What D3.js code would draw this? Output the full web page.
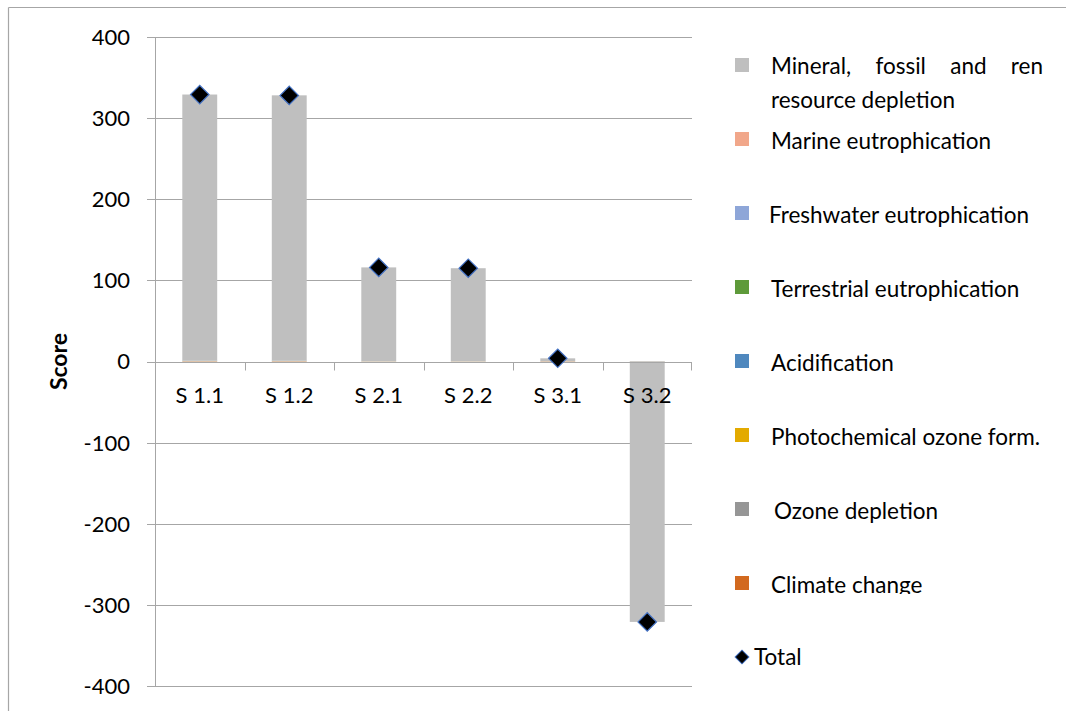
<!DOCTYPE html>
<html>
<head>
<meta charset="utf-8">
<script src="https://cdn.jsdelivr.net/npm/d3@7"></script>
<style>
  html, body { margin: 0; padding: 0; background: #fff; }
  svg { display: block; }
  text { font-family: Lato, "Open Sans", sans-serif; fill: #000; }
</style>
</head>
<body>
<svg id="chart" width="1066" height="711"></svg>
<script>
// ---------------- data ----------------
const categories = ["S 1.1", "S 1.2", "S 2.1", "S 2.2", "S 3.1", "S 3.2"];
// stacked series, bottom to top (Excel order); legend lists them top to bottom
const climateChange   = [0.4, 0.4, 0.2, 0.2, 0.3, 0.1];
const ozoneDepletion  = [0.0, 0.0, 0.0, 0.0, 0.0, 0.0];
const photochemical   = [0.1, 0.1, 0.05, 0.05, 0.05, 0.05];
const acidification   = [0.3, 0.3, 0.1, 0.1, 0.1, 0.1];
const terrestrial     = [0.1, 0.1, 0.05, 0.05, 0.05, 0.05];
const freshwater      = [0.1, 0.1, 0.05, 0.05, 0.05, 0.05];
const marine          = [0.1, 0.1, 0.05, 0.05, 0.05, 0.05];
const mineral         = [328, 327, 115.5, 114.5, 3.3, -321];
const total           = [329, 328, 116, 115, 4, -321];
const yTicks = [-400, -300, -200, -100, 0, 100, 200, 300, 400];

const seriesNames = ["Climate change", "Ozone depletion", "Photochemical ozone form.",
  "Acidification", "Terrestrial eutrophication", "Freshwater eutrophication",
  "Marine eutrophication", "Mineral, fossil and ren resource depletion"];
const seriesValues = [climateChange, ozoneDepletion, photochemical, acidification,
  terrestrial, freshwater, marine, mineral];
const seriesColors = ["#D2691F", "#969696", "#E3AA00", "#4F88BE", "#5E9A3A",
  "#8EA6D8", "#F1A78A", "#BFBFBF"];

// ---------------- layout ----------------
const svg = d3.select("#chart");
const plot = { left: 155, right: 692, top: 37, bottom: 686 };
const tickFont = "22px";
const legendFont = "22.5px";

// outer chart border (top and left visible)
svg.append("line").attr("x1", 8.5).attr("x2", 1066).attr("y1", 7.5).attr("y2", 7.5)
  .attr("stroke", "#A6A6A6").attr("stroke-width", 1.2);
svg.append("line").attr("x1", 8.5).attr("x2", 8.5).attr("y1", 7.5).attr("y2", 711)
  .attr("stroke", "#A6A6A6").attr("stroke-width", 1.2);

const x = d3.scaleBand().domain(categories).range([plot.left, plot.right]).paddingInner(0).paddingOuter(0);
const y = d3.scaleLinear().domain([-400, 400]).range([plot.bottom, plot.top]);

// gridlines
svg.append("g").selectAll("line").data(yTicks).join("line")
  .attr("x1", plot.left - 8).attr("x2", plot.right)
  .attr("y1", d => Math.round(y(d)) + 0.5).attr("y2", d => Math.round(y(d)) + 0.5)
  .attr("stroke", "#A6A6A6").attr("stroke-width", 1);

// y-axis labels
svg.append("g").selectAll("text").data(yTicks).join("text")
  .attr("x", 130).attr("y", d => y(d))
  .attr("dy", "0.36em").attr("text-anchor", "end")
  .style("font-size", tickFont)
  .text(d => d);

// vertical axis line
svg.append("line").attr("x1", plot.left + 0.5).attr("x2", plot.left + 0.5)
  .attr("y1", plot.top).attr("y2", plot.bottom).attr("stroke", "#A6A6A6");

// stacked bars
const tableRows = categories.map((c, i) => {
  const row = { cat: c };
  seriesNames.forEach((n, k) => row[n] = seriesValues[k][i]);
  return row;
});
const stack = d3.stack().keys(seriesNames).offset(d3.stackOffsetDiverging);
const stacked = stack(tableRows);
const barW = x.bandwidth() * 0.39;

svg.append("g").selectAll("g").data(stacked).join("g")
  .attr("fill", (d, i) => seriesColors[i])
  .selectAll("rect").data(d => d).join("rect")
  .attr("x", d => x(d.data.cat) + (x.bandwidth() - barW) / 2)
  .attr("width", barW)
  .attr("y", d => y(Math.max(d[0], d[1])))
  .attr("height", d => Math.abs(y(d[0]) - y(d[1])));

// zero axis line + category ticks
const y0 = Math.round(y(0)) + 0.5;
svg.append("line").attr("x1", plot.left - 8).attr("x2", plot.right)
  .attr("y1", y0).attr("y2", y0).attr("stroke", "#A6A6A6");
const boundaries = categories.map(c => x(c) + x.bandwidth());
boundaries.pop();
svg.append("g").selectAll("line").data(boundaries).join("line")
  .attr("x1", d => Math.round(d) + 0.5).attr("x2", d => Math.round(d) + 0.5)
  .attr("y1", y0).attr("y2", y0 + 8).attr("stroke", "#A6A6A6");
svg.append("line").attr("x1", plot.right - 0.5).attr("x2", plot.right - 0.5)
  .attr("y1", y0).attr("y2", y0 + 8).attr("stroke", "#A6A6A6");

// category labels
svg.append("g").selectAll("text").data(categories).join("text")
  .attr("x", d => x(d) + x.bandwidth() / 2).attr("y", y0 + 40)
  .attr("text-anchor", "middle").style("font-size", tickFont)
  .text(d => d);

// total markers
const diamond = d3.symbol().type(d3.symbolSquare).size(170);
svg.append("g").selectAll("path").data(total).join("path")
  .attr("d", diamond)
  .attr("transform", (d, i) => `translate(${x(categories[i]) + x.bandwidth() / 2},${y(d)}) rotate(45)`)
  .attr("fill", "#000").attr("stroke", "#4472C4").attr("stroke-width", 1.2);

// y-axis title
svg.append("text").attr("transform", `translate(67,${y(0)}) rotate(-90)`)
  .attr("text-anchor", "middle").style("font-size", "23px").style("font-weight", "bold")
  .text("Score");

// ---------------- legend ----------------
const legendOrder = seriesNames.slice().reverse();
const legendColors = seriesColors.slice().reverse();
const legendY = [65, 139, 213, 287, 361, 435, 509, 583];
const legendTextX = [771, 771, 769, 771, 771, 771, 774, 771];
const lg = svg.append("g");
svg.append("defs").append("clipPath").attr("id", "lgclip")
  .append("rect").attr("x", 700).attr("y", 0).attr("width", 366).attr("height", 594);
lg.attr("clip-path", "url(#lgclip)");

legendOrder.forEach((name, i) => {
  lg.append("rect").attr("x", 735).attr("y", legendY[i] - 7).attr("width", 14).attr("height", 14)
    .attr("fill", legendColors[i]);
  if (i === 0) {
    // justified two-line entry
    const words = ["Mineral,", "fossil", "and", "ren"];
    const tmp = words.map(w => lg.append("text").style("font-size", legendFont).attr("y", legendY[i] + 1).attr("dy", "0.36em").text(w));
    const widths = tmp.map(t => t.node().getComputedTextLength());
    const left = 771, right = 1043;
    const gap = (right - left - d3.sum(widths)) / (words.length - 1);
    let cx = left;
    tmp.forEach((t, k) => { t.attr("x", cx); cx += widths[k] + gap; });
    lg.append("text").attr("x", left).attr("y", legendY[i] + 35).attr("dy", "0.36em")
      .style("font-size", legendFont).text("resource depletion");
  } else {
    lg.append("text").attr("x", legendTextX[i]).attr("y", legendY[i] + 2).attr("dy", "0.36em")
      .style("font-size", legendFont).text(name);
  }
});

// Total legend entry
svg.append("path").attr("d", d3.symbol().type(d3.symbolSquare).size(95))
  .attr("transform", "translate(742,657) rotate(45)")
  .attr("fill", "#000").attr("stroke", "#4472C4").attr("stroke-width", 1);
svg.append("text").attr("x", 754).attr("y", 657).attr("dy", "0.36em")
  .style("font-size", legendFont).text("Total");
</script>
</body>
</html>
